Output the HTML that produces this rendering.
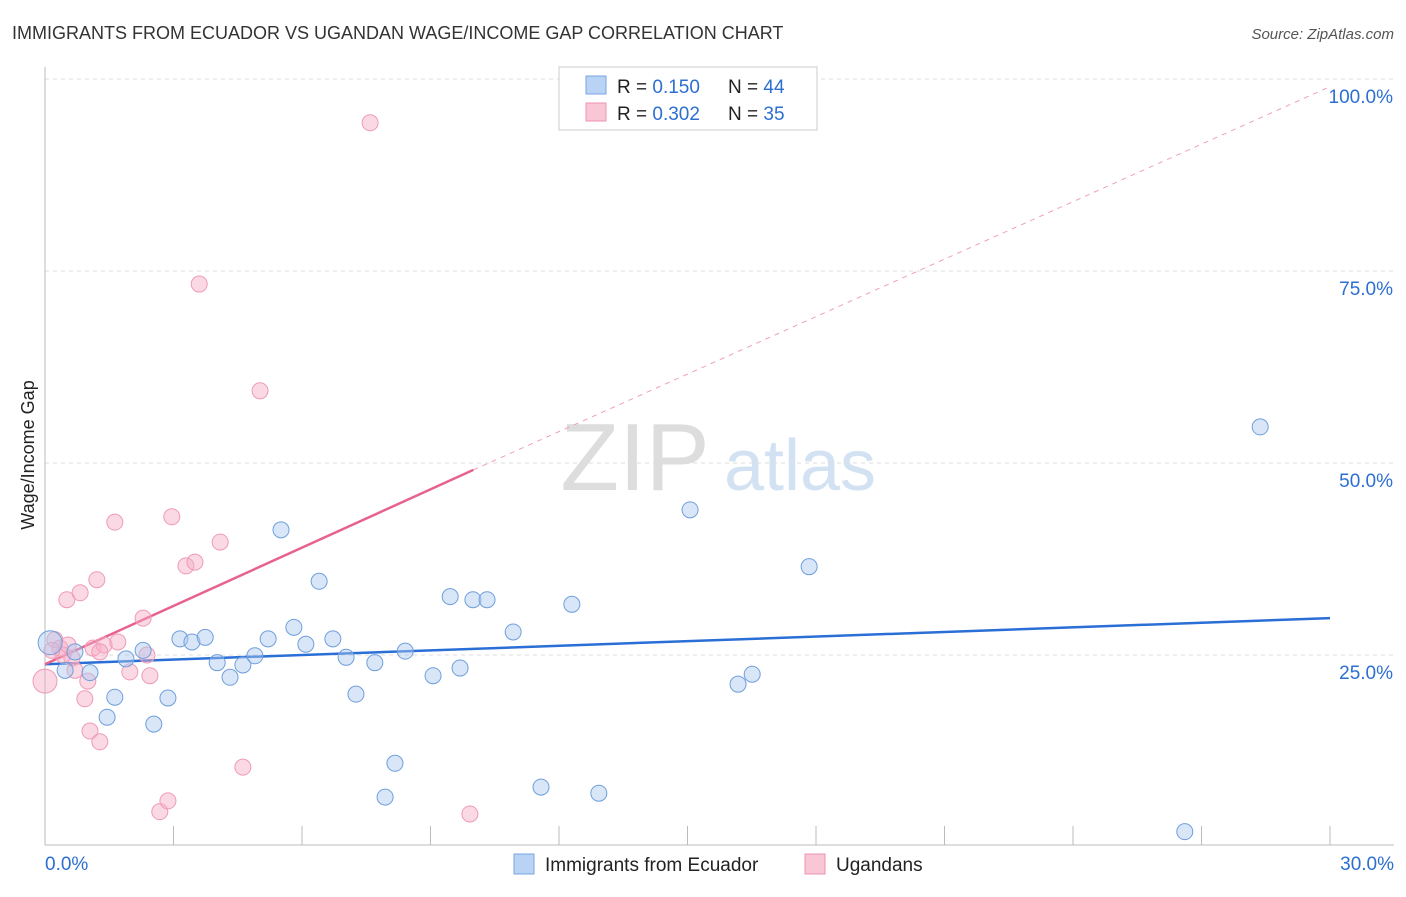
<!DOCTYPE html>
<html><head><meta charset="utf-8"><style>
body{margin:0;background:#fff;font-family:"Liberation Sans",sans-serif;}
svg text{font-family:"Liberation Sans",sans-serif;}
</style></head><body>
<svg id="chart" width="1406" height="892" xmlns="http://www.w3.org/2000/svg">
<text x="12" y="39" font-size="18" fill="#333">IMMIGRANTS FROM ECUADOR VS UGANDAN WAGE/INCOME GAP CORRELATION CHART</text>
<text x="1394" y="39" font-size="15" fill="#555" font-style="italic" text-anchor="end">Source: ZipAtlas.com</text>
<text x="40" y="455" font-size="18" fill="#222" text-anchor="middle" transform="rotate(-90 40 455)" dy="-6">Wage/Income Gap</text>
<g><text x="635" y="490" font-size="96" fill="#ddd" font-family="Liberation Serif" text-anchor="middle">ZIP</text><text x="800" y="490" font-size="72" fill="#d3e2f3" text-anchor="middle">atlas</text></g>
<g id="grid"></g><g id="axes"></g><g id="lines"></g><g id="pts"></g>
<g>
<rect x="559" y="67" width="258" height="63" fill="#fff" stroke="#ccc"/>
<rect x="586" y="76" width="20" height="18" fill="#b9d3f5" stroke="#7aa6e0"/>
<rect x="586" y="103" width="20" height="18" fill="#f9c6d6" stroke="#ef93b0"/>
<text x="617" y="93" font-size="19" fill="#222">R = <tspan fill="#2c6fd1">0.150</tspan></text>
<text x="728" y="93" font-size="19" fill="#222">N = <tspan fill="#2c6fd1">44</tspan></text>
<text x="617" y="120" font-size="19" fill="#222">R = <tspan fill="#2c6fd1">0.302</tspan></text>
<text x="728" y="120" font-size="19" fill="#222">N = <tspan fill="#2c6fd1">35</tspan></text>
</g>
<g>
<rect x="514" y="854" width="20" height="20" fill="#b9d3f5" stroke="#7aa6e0"/>
<text x="545" y="871" font-size="19" fill="#222">Immigrants from Ecuador</text>
<rect x="805" y="854" width="20" height="20" fill="#f9c6d6" stroke="#ef93b0"/>
<text x="836" y="871" font-size="19" fill="#222">Ugandans</text>
</g>
</svg>
<script>
const yTicks=[25,50,75,100];
const yTickLabels=["25.0%","50.0%","75.0%","100.0%"];
const xTicks=[0,3,6,9,12,15,18,21,24,27,30];
const blueX=[0.12,0.47,0.70,1.05,1.45,1.63,1.89,2.29,2.54,2.87,3.15,3.43,3.74,4.02,4.32,4.62,4.90,5.21,5.51,5.81,6.09,6.40,6.72,7.03,7.26,7.70,7.94,8.17,8.41,9.06,9.46,9.69,9.99,10.32,10.93,11.58,12.30,12.93,15.06,16.18,16.51,17.84,26.61,28.37];
const blueY=[26.6,23.0,25.4,22.7,16.9,19.5,24.5,25.6,16.0,19.4,27.1,26.7,27.3,24.0,22.1,23.7,24.9,27.1,41.3,28.6,26.4,34.6,27.1,24.7,19.9,24.0,6.5,10.9,25.5,22.3,32.6,23.3,32.2,32.2,28.0,7.8,31.6,7.0,43.9,21.2,22.5,36.5,2.0,54.7];
const pinkX=[0,0.23,0.35,0.51,0.63,0.70,0.82,0.93,1.00,1.05,1.12,1.21,1.28,1.38,1.63,1.70,1.98,2.29,2.38,2.45,2.68,2.87,2.96,3.29,3.50,3.60,4.09,4.62,5.02,7.59,9.92,0.42,0.16,1.28,0.54];
const pinkY=[21.6,27.0,25.9,32.2,24.6,23.0,33.1,19.3,21.6,15.1,25.9,34.8,13.7,26.3,42.3,26.7,22.8,29.8,25.0,22.3,4.6,6.0,43.0,36.6,37.1,73.3,39.7,10.4,59.4,94.3,4.3,25.0,25.6,25.4,26.3];
const blueTrend=[[0,23.8],[30,29.8]];
const pinkTrend=[[0,23.8],[10,49.1]];
const pinkDash=[[10,49.1],[30,99.0]];
const NS="http://www.w3.org/2000/svg";
const X=v=>45+v/30*1285, Y=v=>847-v*7.68;
function mk(t,a,p){const e=document.createElementNS(NS,t);for(const k in a)e.setAttribute(k,a[k]);document.getElementById(p).appendChild(e);return e;}
yTicks.forEach((t,i)=>{
 const g=mk('line',{x1:45,x2:1394,y1:Y(t),y2:Y(t),stroke:'#ddd','stroke-dasharray':'4,4'},'grid');
 
 
 const l=mk('text',{x:1393,y:Y(t)+24,'font-size':19,fill:'#2c6fd1','text-anchor':'end'},'axes');l.textContent=yTickLabels[i];
 
 
});
const ax=mk('line',{x1:45,x2:45,y1:67,y2:845,stroke:'#bbb'},'axes');


const bx=mk('line',{x1:45,x2:1394,y1:845,y2:845,stroke:'#bbb'},'axes');


xTicks.forEach(t=>{const e=mk('line',{x1:X(t),x2:X(t),y1:826,y2:845,stroke:'#bbb'},'axes');
 
 });
const x0=mk('text',{x:45,y:870,'font-size':19,fill:'#2c6fd1'},'axes');x0.textContent='0.0%';


const x1=mk('text',{x:1394,y:870,'font-size':19,fill:'#2c6fd1','text-anchor':'end'},'axes');x1.textContent='30.0%';


function ln(p,c,w,d,name){const e=mk('line',{x1:X(p[0][0]),y1:Y(p[0][1]),x2:X(p[1][0]),y2:Y(p[1][1]),stroke:c,'stroke-width':w},'lines');if(d)e.setAttribute('stroke-dasharray',d);
 
 }
ln(pinkDash,'#eea0b8',1,'5,5','pink-trend-extension');
ln(blueTrend,'#2a6fd6',2.5,null,'blue-trend-line');
ln(pinkTrend,'#e8628e',2.5,null,'pink-trend-line');
pinkX.forEach((x,i)=>{const e=mk('circle',{cx:X(x),cy:Y(pinkY[i]),r:i==0?12:8,fill:'rgba(246,170,195,0.45)',stroke:'#ee9bb6','stroke-width':1},'pts');
 
 });
blueX.forEach((x,i)=>{const e=mk('circle',{cx:X(x),cy:Y(blueY[i]),r:i==0?12:8,fill:'rgba(170,200,240,0.45)',stroke:'#6f9fdc','stroke-width':1},'pts');
 
 });
</script>
</body></html>
